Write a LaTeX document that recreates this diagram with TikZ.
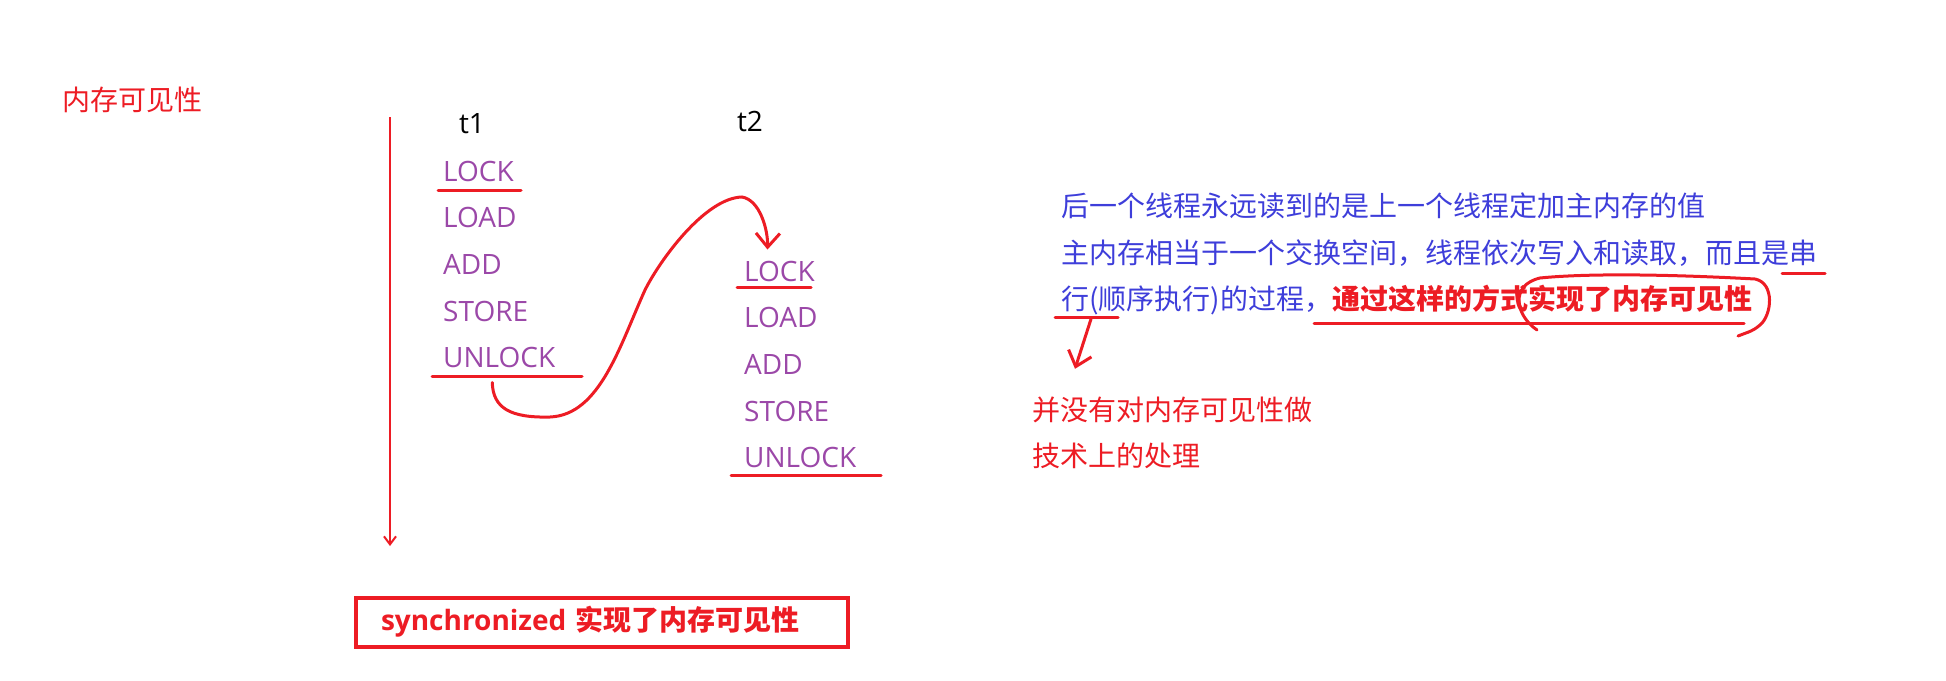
\documentclass[tikz,border=0pt]{standalone}
\usepackage{fontspec}
\setmainfont{Noto Sans CJK SC}
\newfontfamily\latinfont{Open Sans}
\usetikzlibrary{arrows.meta}
\definecolor{penred}{RGB}{237,28,36}
\definecolor{oppurple}{RGB}{155,72,168}
\definecolor{noteblue}{RGB}{62,62,218}

\begin{document}
\begin{tikzpicture}[x=1pt,y=-1pt,
  every node/.style={inner sep=0pt,font=\fontsize{28}{34}\selectfont},
  op/.style={anchor=west,text=oppurple,font=\fontsize{28}{34}\selectfont\latinfont},
  note/.style={anchor=west,text=noteblue},
  pen/.style={draw=penred,line width=3pt,line cap=round},
  barb/.style={-{Straight Barb[length=14pt,width=24pt]}}]

  \useasboundingbox (0,0) rectangle (1946,680);

  \node[anchor=west,text=penred] (title) at (62,100) {内存可见性};

  \coordinate (top) at (390,117);
  \coordinate (bottom) at (390,546);
  \draw[draw=penred,line width=2pt,-{Straight Barb[length=8pt,width=12pt]}] (top) -- (bottom);

  \node[font=\fontsize{28}{34}\selectfont\latinfont] (t1) at (472,124) {t1};
  \node[font=\fontsize{28}{34}\selectfont\latinfont] (t2) at (750,121) {t2};

  \node[op] (lockA) at (443,171) {LOCK};
  \node[op] (loadA) at (443,217) {LOAD};
  \node[op] (addA) at (443,264) {ADD};
  \node[op] (storeA) at (443,311) {STORE};
  \node[op] (unlockA) at (443,357) {UNLOCK};

  \node[op] (lockB) at (744,271) {LOCK};
  \node[op] (loadB) at (744,317) {LOAD};
  \node[op] (addB) at (744,364) {ADD};
  \node[op] (storeB) at (744,411) {STORE};
  \node[op] (unlockB) at (744,457) {UNLOCK};

  \draw[pen] (438,190) -- (521,190);
  \draw[pen] (432,376) -- (582,376);
  \draw[pen] (737,287) -- (811,287);
  \draw[pen] (731,475) -- (881,475);

  \draw[pen,barb] ([xshift=-7pt,yshift=-15pt]unlockA.south)
    .. controls (493,408) and (510,418) .. (550,417)
    .. controls (600,415) and (620,345) .. (645,290)
    .. controls (660,260) and (705,198) .. (742,197)
    .. controls (760,200) and (768,230) .. ([xshift=-12pt,yshift=11pt]lockB.north);

  \node[note] (lineA) at (1061,206) {后一个线程永远读到的是上一个线程定加主内存的值};
  \node[note] (lineB) at (1061,253) {主内存相当于一个交换空间，线程依次写入和读取，而且是串};
  \node[note] (lineC) at (1061,300) {行(顺序执行)的过程，\textcolor{penred}{\bfseries 通过这样的方式实现了内存可见性}};

  \draw[pen] (1782,273) -- (1825,273);
  \draw[pen] (1055,317) -- (1118,317);
  \draw[pen] (1314,323) -- (1744,323);
  \draw[pen] (1537,330) .. controls (1515,315) and (1510,285) .. (1540,278)
    .. controls (1600,272) and (1700,276) .. (1755,279)
    .. controls (1775,283) and (1772,315) .. (1760,325)
    .. controls (1752,332) and (1745,333) .. (1738,336);

  \node[anchor=west,text=penred] (techA) at (1032,410) {并没有对内存可见性做};
  \node[anchor=west,text=penred] (techB) at (1032,456) {技术上的处理};

  \coordinate (bend) at (1091,319);
  \draw[pen,barb] (bend) -- ([xshift=43pt,yshift=28pt]techA.north west);

  \node[draw=penred,line width=4pt,anchor=west,inner xsep=25pt,minimum height=49pt,
    text width=442pt,align=left,text=penred,font=\fontsize{28}{34}\selectfont\bfseries]
    (sync) at (354,622) {{\latinfont synchronized} 实现了内存可见性};
\end{tikzpicture}
\end{document}
